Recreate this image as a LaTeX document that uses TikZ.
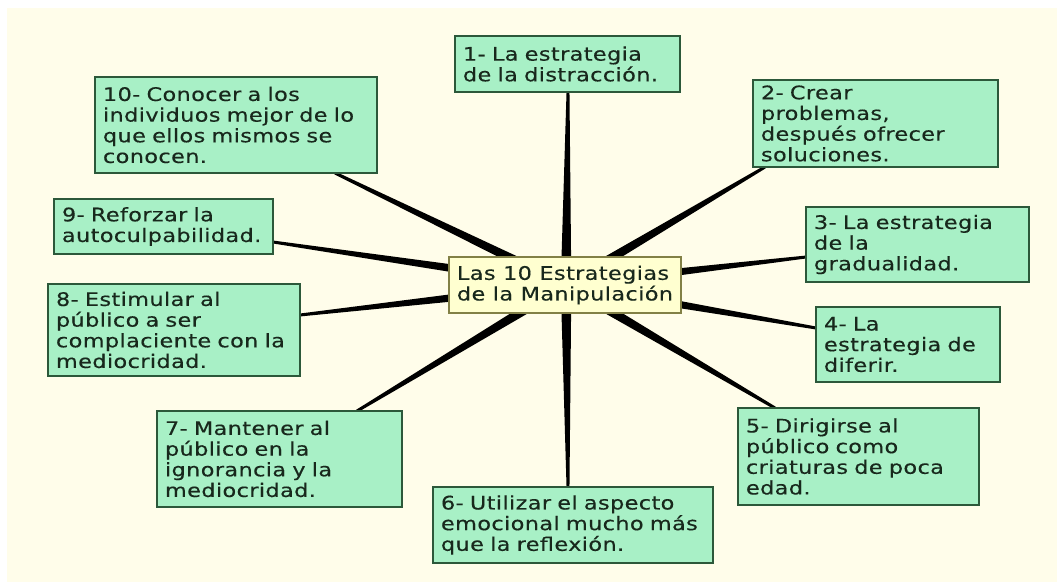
\documentclass[tikz,border=0pt]{standalone}
\usepackage{fontspec}
\setmainfont{DejaVu Sans}[FakeStretch=1.2, FakeBold=0.35, LetterSpace=2]
\usetikzlibrary{calc}
\definecolor{cream}{RGB}{255,253,234}
\definecolor{mint}{RGB}{168,240,198}
\definecolor{mintborder}{RGB}{44,88,58}
\definecolor{boxtext}{RGB}{24,40,28}
\definecolor{hubfill}{RGB}{255,255,208}
\definecolor{hubborder}{RGB}{130,128,70}
\begin{document}
\begin{tikzpicture}[x=0.75pt,y=-0.75pt,
  every node/.style={font=\fontsize{14pt}{15.5pt}\selectfont},
  box/.style={draw=mintborder, fill=mint, line width=1.5pt, text=boxtext,
    align=left, inner xsep=6pt, inner ysep=0pt},
  hubbox/.style={draw=hubborder, fill=hubfill, line width=1.5pt, text=boxtext,
    align=left, inner xsep=6pt, inner ysep=0pt},
  conn/.style={fill=black}]
\fill[white] (0,0) rectangle (1057,582);
\fill[cream] (7,8) rectangle (1057,582);
\useasboundingbox (0,0) rectangle (1057,582);

% hub point and leaf points
\coordinate (c) at (566,285);
\coordinate (l1) at (568,92);
\coordinate (l2) at (765,167);
\coordinate (l3) at (806,257);
\coordinate (l4) at (816,328);
\coordinate (l5) at (775,408);
\coordinate (l6) at (568,487);
\coordinate (l7) at (357,411);
\coordinate (l8) at (300,315);
\coordinate (l9) at (273,242);
\coordinate (l10) at (335,173);

% tapered connectors
\foreach \l in {l1,l2,l3,l4,l5,l6,l7,l8,l9,l10}{
  \fill[conn] ($(c)!4pt!90:(\l)$) -- ($(\l)!1.1pt!-90:(c)$)
    -- ($(\l)!1.1pt!90:(c)$) -- ($(c)!4pt!-90:(\l)$) -- cycle;
}

\node[hubbox, minimum width=171pt, minimum height=42pt] (hub) at (565,285)
  {Las 10 Estrategias\\de la Manipulación};

\node[box, text width=156.75pt, minimum height=42pt] (b1) at (567.5,64)
  {1- La estrategia\\de la distracción.};
\node[box, text width=171.75pt, minimum height=65.25pt] (b2) at (875.5,123.5)
  {2- Crear\\problemas,\\después ofrecer\\soluciones.};
\node[box, text width=155.25pt, minimum height=56.25pt] (b3) at (917.5,244.5)
  {3- La estrategia\\de la\\gradualidad.};
\node[box, text width=126pt, minimum height=56.25pt] (b4) at (908,344.5)
  {4- La\\estrategia de\\diferir.};
\node[box, text width=168.75pt, minimum height=72.75pt] (b5) at (858.5,456.5)
  {5- Dirigirse al\\público como\\criaturas de poca\\edad.};
\node[box, text width=198pt, minimum height=57pt] (b6) at (573,525)
  {6- Utilizar el aspecto\\emocional mucho más\\que la reflexión.};
\node[box, text width=171.75pt, minimum height=72pt] (b7) at (279.5,459)
  {7- Mantener al\\público en la\\ignorancia y la\\mediocridad.};
\node[box, text width=177pt, minimum height=69pt] (b8) at (174,330)
  {8- Estimular al\\público a ser\\complaciente con la\\mediocridad.};
\node[box, text width=152.25pt, minimum height=41.25pt] (b9) at (163.5,226.5)
  {9- Reforzar la\\autoculpabilidad.};
\node[box, text width=199.5pt, minimum height=72pt] (b10) at (236,125)
  {10- Conocer a los\\individuos mejor de lo\\que ellos mismos se\\conocen.};
\end{tikzpicture}
\end{document}
